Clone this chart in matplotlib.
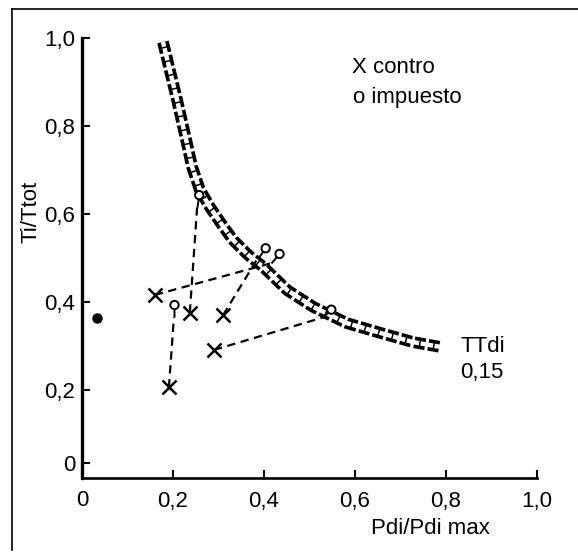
import matplotlib.pyplot as plt
import numpy as np
from matplotlib.lines import Line2D
from matplotlib.markers import MarkerStyle
from matplotlib.path import Path
from matplotlib.transforms import Affine2D

# datos
# X = control, o = impuesto (cada sujeto unido con línea discontinua)
ctrl_x = [0.160, 0.237, 0.310, 0.191, 0.290]
ctrl_y = [0.416, 0.376, 0.370, 0.206, 0.291]
imp_x = [0.415, 0.253, 0.387, 0.202, 0.527]
imp_y = [0.488, 0.615, 0.501, 0.365, 0.364]

# punto aislado
dot_x = [0.033]
dot_y = [0.364]

# isopleta TTdi = 0,15
curve_x = [0.178, 0.193, 0.209, 0.229, 0.242, 0.259, 0.281, 0.308, 0.332,
           0.365, 0.398, 0.451, 0.508, 0.582, 0.655, 0.727, 0.787]
curve_y = [0.991, 0.927, 0.859, 0.768, 0.707, 0.655, 0.616, 0.575, 0.541,
           0.507, 0.480, 0.427, 0.389, 0.352, 0.330, 0.309, 0.298]

xticks = [0, 0.2, 0.4, 0.6, 0.8, 1.0]
xtick_labels = ['0', '0,2', '0,4', '0,6', '0,8', '1,0']
yticks = [0.035, 0.2, 0.4, 0.6, 0.8, 1.0]
ytick_labels = ['0', '0,2', '0,4', '0,6', '0,8', '1,0']

plt.rcParams['font.family'] = ['Liberation Sans', 'DejaVu Sans']
plt.rcParams['lines.scale_dashes'] = False

fig = plt.figure(figsize=(5.78, 5.53), dpi=100)
ax = fig.add_axes([82 / 578, 75 / 553, 455 / 578, 440 / 553])

# banda de la isopleta: trazo negro grueso discontinuo con interior blanco
# cortado por pequeños travesaños (aspecto de cadena)
ax.plot(curve_x, curve_y, color='black', lw=8.5, linestyle=(0, (8, 2.2)),
        dash_capstyle='butt')
ax.plot(curve_x, curve_y, color='white', lw=3.2, linestyle=(0.5, (4.0, 1.1)),
        dash_capstyle='butt')

# líneas control -> impuesto
for cx, cy, ix, iy in zip(ctrl_x, ctrl_y, imp_x, imp_y):
    ax.plot([cx, ix], [cy, iy], color='black', lw=1.6, linestyle=(0, (6, 4)))

# marcadores X
ax.plot(ctrl_x, ctrl_y, linestyle='none', marker='x', markersize=10,
        markeredgewidth=1.8, color='black')

# marcadores "o" con palito (circulo desplazado)
lolli = Path.make_compound_path(
    Path([(0, 0), (0, 0.5)], [Path.MOVETO, Path.LINETO]),
    Path.circle((0, 0.75), 0.25))
tilts = [-40, -8, -35, 0, -45]
for ix, iy, t in zip(imp_x, imp_y, tilts):
    m = MarkerStyle(lolli, transform=Affine2D().rotate_deg(t))
    ax.plot([ix], [iy], linestyle='none', marker=m, markersize=24,
            markerfacecolor='white', markeredgecolor='black',
            markeredgewidth=1.4)

ax.plot(dot_x, dot_y, linestyle='none', marker='o', markersize=6.5,
        color='black', clip_on=False)

# textos
ax.text(0.593, 0.934, 'X contro', fontsize=16, va='center', ha='left')
ax.text(0.595, 0.864, 'o impuesto', fontsize=16, va='center', ha='left')
ax.text(0.831, 0.298, 'TTdi', fontsize=16, va='center', ha='left')
ax.text(0.831, 0.240, '0,15', fontsize=16, va='center', ha='left')

ax.set_xlim(0, 1.0)
ax.set_ylim(0, 1.0)
ax.set_xticks(xticks)
ax.set_xticklabels(xtick_labels, fontsize=16)
ax.set_yticks(yticks)
ax.set_yticklabels(ytick_labels, fontsize=16)
ax.tick_params(axis='x', direction='in', length=6, width=1.5, pad=9)
ax.tick_params(axis='y', direction='in', length=6, width=1.5, pad=5)

ax.set_xlabel('Pdi/Pdi max', fontsize=16)
ax.xaxis.set_label_coords(0.765, -0.09)
ax.set_ylabel('Ti/Ttot', fontsize=16)
ax.yaxis.set_label_coords(-0.09, 0.605)

ax.spines['top'].set_visible(False)
ax.spines['right'].set_visible(False)
ax.spines['left'].set_linewidth(2.4)
ax.spines['bottom'].set_linewidth(1.9)

# marco exterior (solo arriba e izquierda)
fig.add_artist(Line2D([12 / 578, 1.0], [1 - 9 / 553, 1 - 9 / 553],
                      color='black', lw=1.2))
fig.add_artist(Line2D([12 / 578, 12 / 578], [1 - 9 / 553, 3 / 553],
                      color='black', lw=1.2))

fig.savefig('out.png', dpi=100)
